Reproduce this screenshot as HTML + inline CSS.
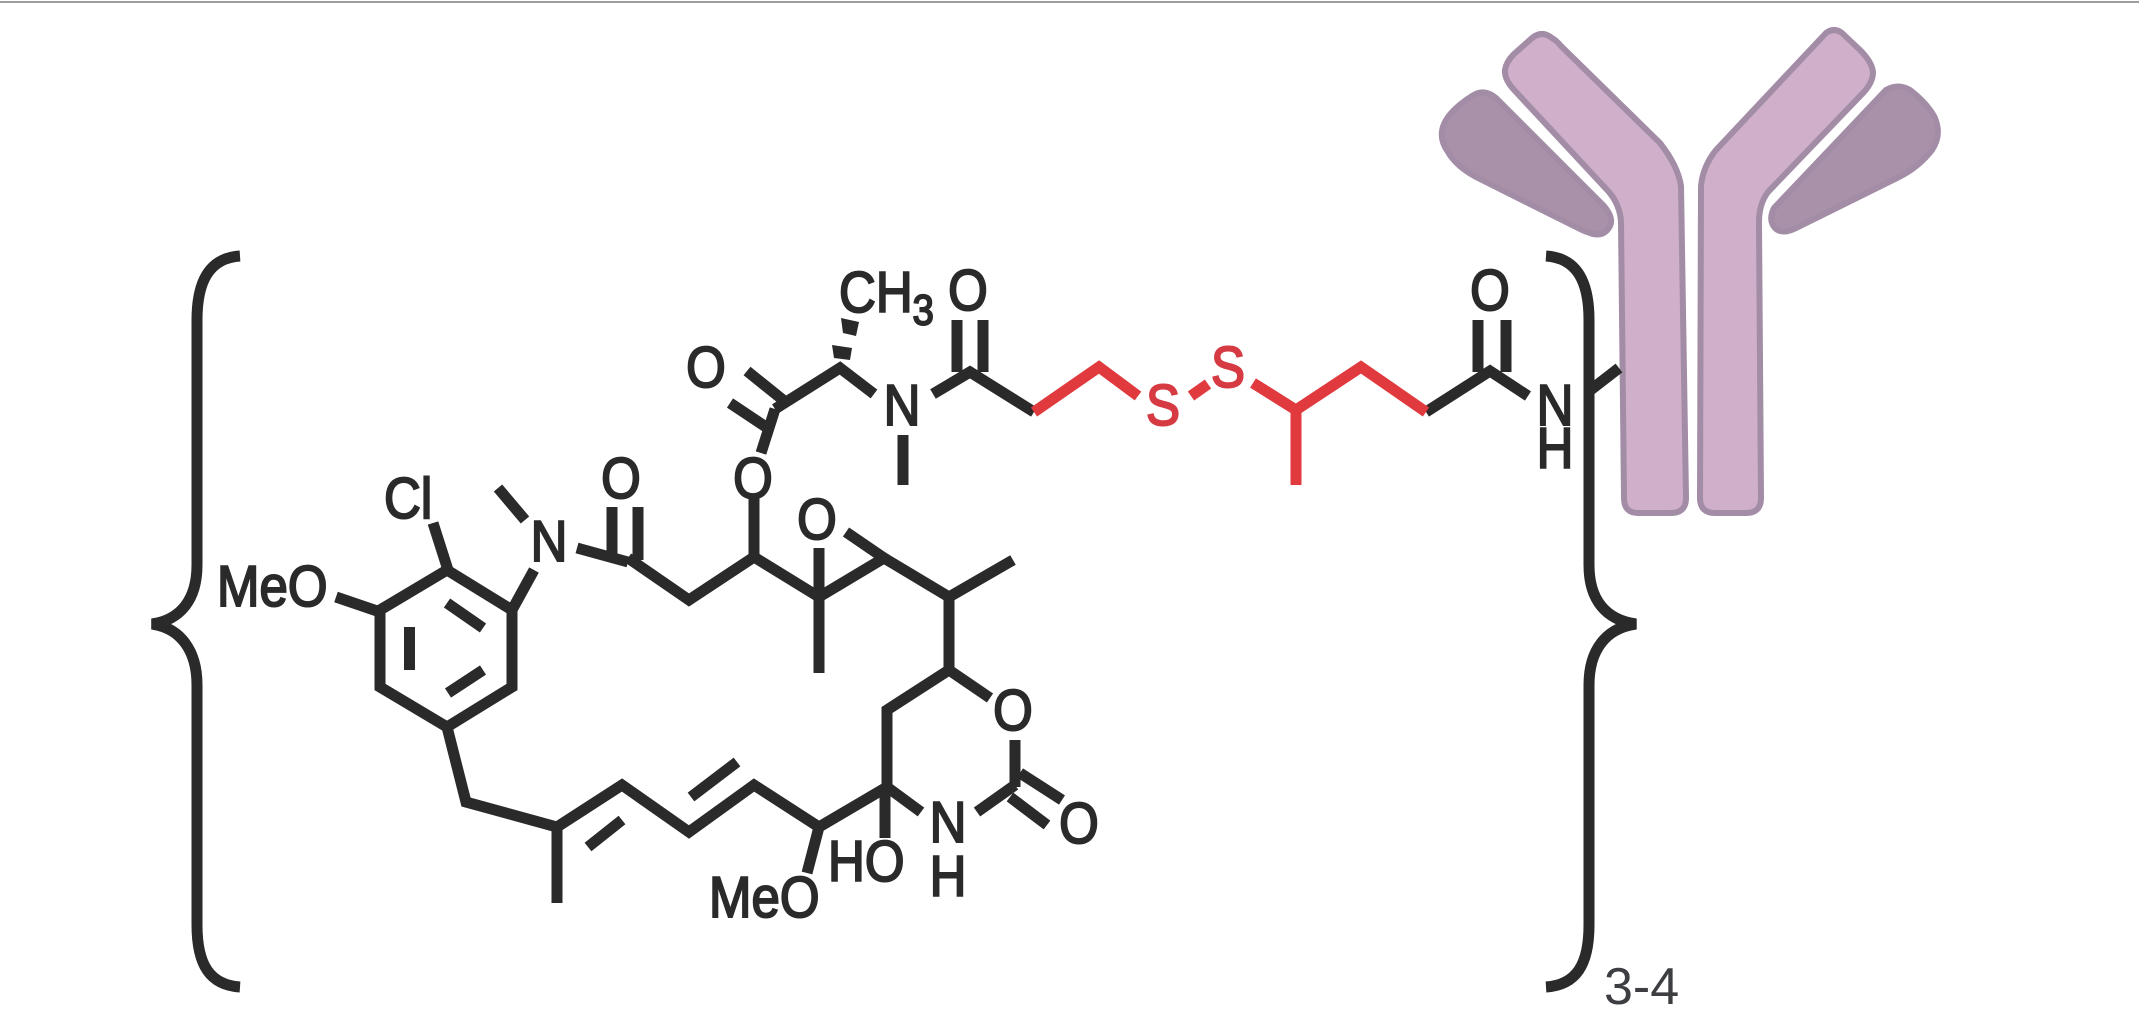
<!DOCTYPE html>
<html><head><meta charset="utf-8"><style>
html,body{margin:0;padding:0;background:#fff;width:2139px;height:1019px;overflow:hidden}
svg{display:block}
text{font-family:"Liberation Sans",Arial,sans-serif;font-size:51px;fill:#2a2a2a;stroke:#2a2a2a;stroke-width:1.8px}
.r{fill:#d63a42;stroke:#d63a42}
</style></head><body>
<svg width="2139" height="1019" viewBox="0 0 2139 1019" xmlns="http://www.w3.org/2000/svg">
<rect width="2139" height="1019" fill="#fff"/>
<rect x="0" y="1" width="2139" height="2" fill="#a09c9e"/>
<!-- antibody -->
<g stroke="#a28ca6" stroke-width="6" stroke-linejoin="round">
<path fill="#cfafc9" d="M1532 38 Q1542 30 1552 38 Q1556 40 1561 46 L1660 143 Q1678 166 1681 186 L1686 498 Q1686 513 1671 513 L1638 513 Q1624 513 1624 498 L1621 222 Q1620 205 1609 192 L1516 92 Q1504 80 1505 70 Q1506 62 1514 54 Z"/>
<path fill="#cfafc9" d="M1826 33 Q1834 27 1842 33 L1860 50 Q1872 62 1873 72 Q1873 82 1864 92 L1768 192 Q1759 204 1759 222 L1761 498 Q1761 513 1746 513 L1715 513 Q1700 513 1700 498 L1701 186 Q1703 166 1716 150 Z"/>
<path fill="#a992a9" d="M1472 96 Q1484 88 1496 98 L1604 206 Q1614 218 1610 226 Q1604 238 1590 233 Q1586 232 1580 229 L1476 177 Q1456 166 1448 152 Q1438 138 1444 124 Q1450 110 1472 96 Z"/>
<path fill="#a992a9" d="M1886 90 Q1898 83 1910 90 Q1928 104 1935 118 Q1942 135 1932 150 Q1918 168 1897 178 L1796 228 Q1782 235 1775 228 Q1768 220 1774 208 Z"/>
</g>
<!-- braces -->
<g fill="none" stroke="#2a2a2a" stroke-width="11">
<path d="M240 256 C210 258 197 280 197 320 L197 565 C197 600 180 620 152 624 C180 628 197 650 197 685 L197 925 C197 965 210 985 240 987"/>
<path d="M1546 256 C1576 258 1589 280 1589 320 L1589 565 C1589 600 1606 620 1636 624 C1606 628 1589 650 1589 685 L1589 925 C1589 965 1576 985 1546 987"/>
</g>
<!-- black bonds -->
<g fill="none" stroke="#2a2a2a" stroke-width="11" stroke-linecap="butt" stroke-linejoin="miter">
<path d="M1619 368 L1588 392"/>
<path d="M1426 412 L1490 371 L1528 396"/>
<path d="M1478 320V372M1506 320V372"/>
<path d="M957 320V372M983 320V372"/>
<path d="M933 394 L970 372 L1034 412"/>
<path d="M775 409 L840 368 L874 394"/>
<path d="M903 435V485"/>
<path d="M747 371 L788 404M730 403 L772 431"/>
<path d="M775 409 L761 453"/>
<path d="M447 570 L512 610 L512 687 L447 727 L380 687 L380 610 Z"/>
<path d="M447 603 L483 628M409.500 627V670M483 670 L448 693"/>
<path d="M433 523 L448 570"/>
<path d="M336 597 L380 612"/>
<path d="M512 610 L534 570"/>
<path d="M498 488 L525 520"/>
<path d="M577 548 L628 562"/>
<path d="M612 507V560M638 507V560"/>
<path d="M628 558 L689 600 L754 557 L819 597 L884 558 L949 597 L1013 560"/>
<path d="M754 498V557"/>
<path d="M819 548V673"/>
<path d="M846 532 L884 558"/>
<path d="M949 597V670 L887 710 L887 787"/>
<path d="M949 670 L990 698"/>
<path d="M887 787 L819 827 L754 785 L689 832 L622 785 L557 827 L466 802 L447 727"/>
<path d="M887 787 L921 812"/>
<path d="M885 787V838"/>
<path d="M819 827 L807 873"/>
<path d="M557 827V903"/>
<path d="M588 847 L622 820M691 797 L737 762"/>
<path d="M1015 740V787"/>
<path d="M1015 785 L977 812"/>
<path d="M1020 773 L1062 800M1010 797 L1047 825"/>
</g>
<!-- hash wedge -->
<g fill="#2a2a2a">
<polygon points="836,365 845,366 845,372 836,372"/>
<polygon points="832,345 852,348 850,360 834,358"/>
<polygon points="841,318 859,322 856,336 843,333"/>
</g>
<!-- red bonds -->
<g fill="none" stroke="#e0393e" stroke-width="11">
<path d="M1034 412 L1099 367 L1138 396"/>
<path d="M1191 396 L1208 384"/>
<path d="M1253 383 L1296 410 L1361 367 L1426 412"/>
<path d="M1296 408V485"/>
</g>
<!-- labels -->
<g text-anchor="middle">
<text transform="translate(968 310) scale(1 1.12)">O</text>
<text transform="translate(706 387) scale(1 1.12)">O</text>
<text transform="translate(902 425) scale(1 1.12)">N</text>
<text transform="translate(753 498) scale(1 1.12)">O</text>
<text transform="translate(621 498) scale(1 1.12)">O</text>
<text transform="translate(549 561) scale(1 1.12)">N</text>
<text transform="translate(817 539) scale(1 1.12)">O</text>
<text transform="translate(1013 730) scale(1 1.12)">O</text>
<text transform="translate(1079 843) scale(1 1.12)">O</text>
<text transform="translate(948 842) scale(1 1.12)">N</text>
<text transform="translate(948 896) scale(1 1.12)">H</text>
<text transform="translate(1490 310) scale(1 1.12)">O</text>
<text transform="translate(1555 425) scale(1 1.12)">N</text>
<text transform="translate(1555 468) scale(1 1.12)">H</text>
<text class="r" transform="translate(1163 425) scale(1 1.12)">S</text>
<text class="r" transform="translate(1228 387) scale(1 1.12)">S</text>
</g>
<text transform="translate(839 312) scale(1 1.12)">CH<tspan dy="11" style="font-size:38px">3</tspan></text>
<text transform="translate(384 518) scale(1 1.12)">Cl</text>
<text transform="translate(217 606) scale(1 1.12)">MeO</text>
<text transform="translate(828 881) scale(1 1.12)">HO</text>
<text transform="translate(709 917) scale(1 1.12)">MeO</text>
<text x="1604" y="1004" style="fill:#3c3e42;stroke:none;font-size:52px">3-4</text>
</svg>
</body></html>
